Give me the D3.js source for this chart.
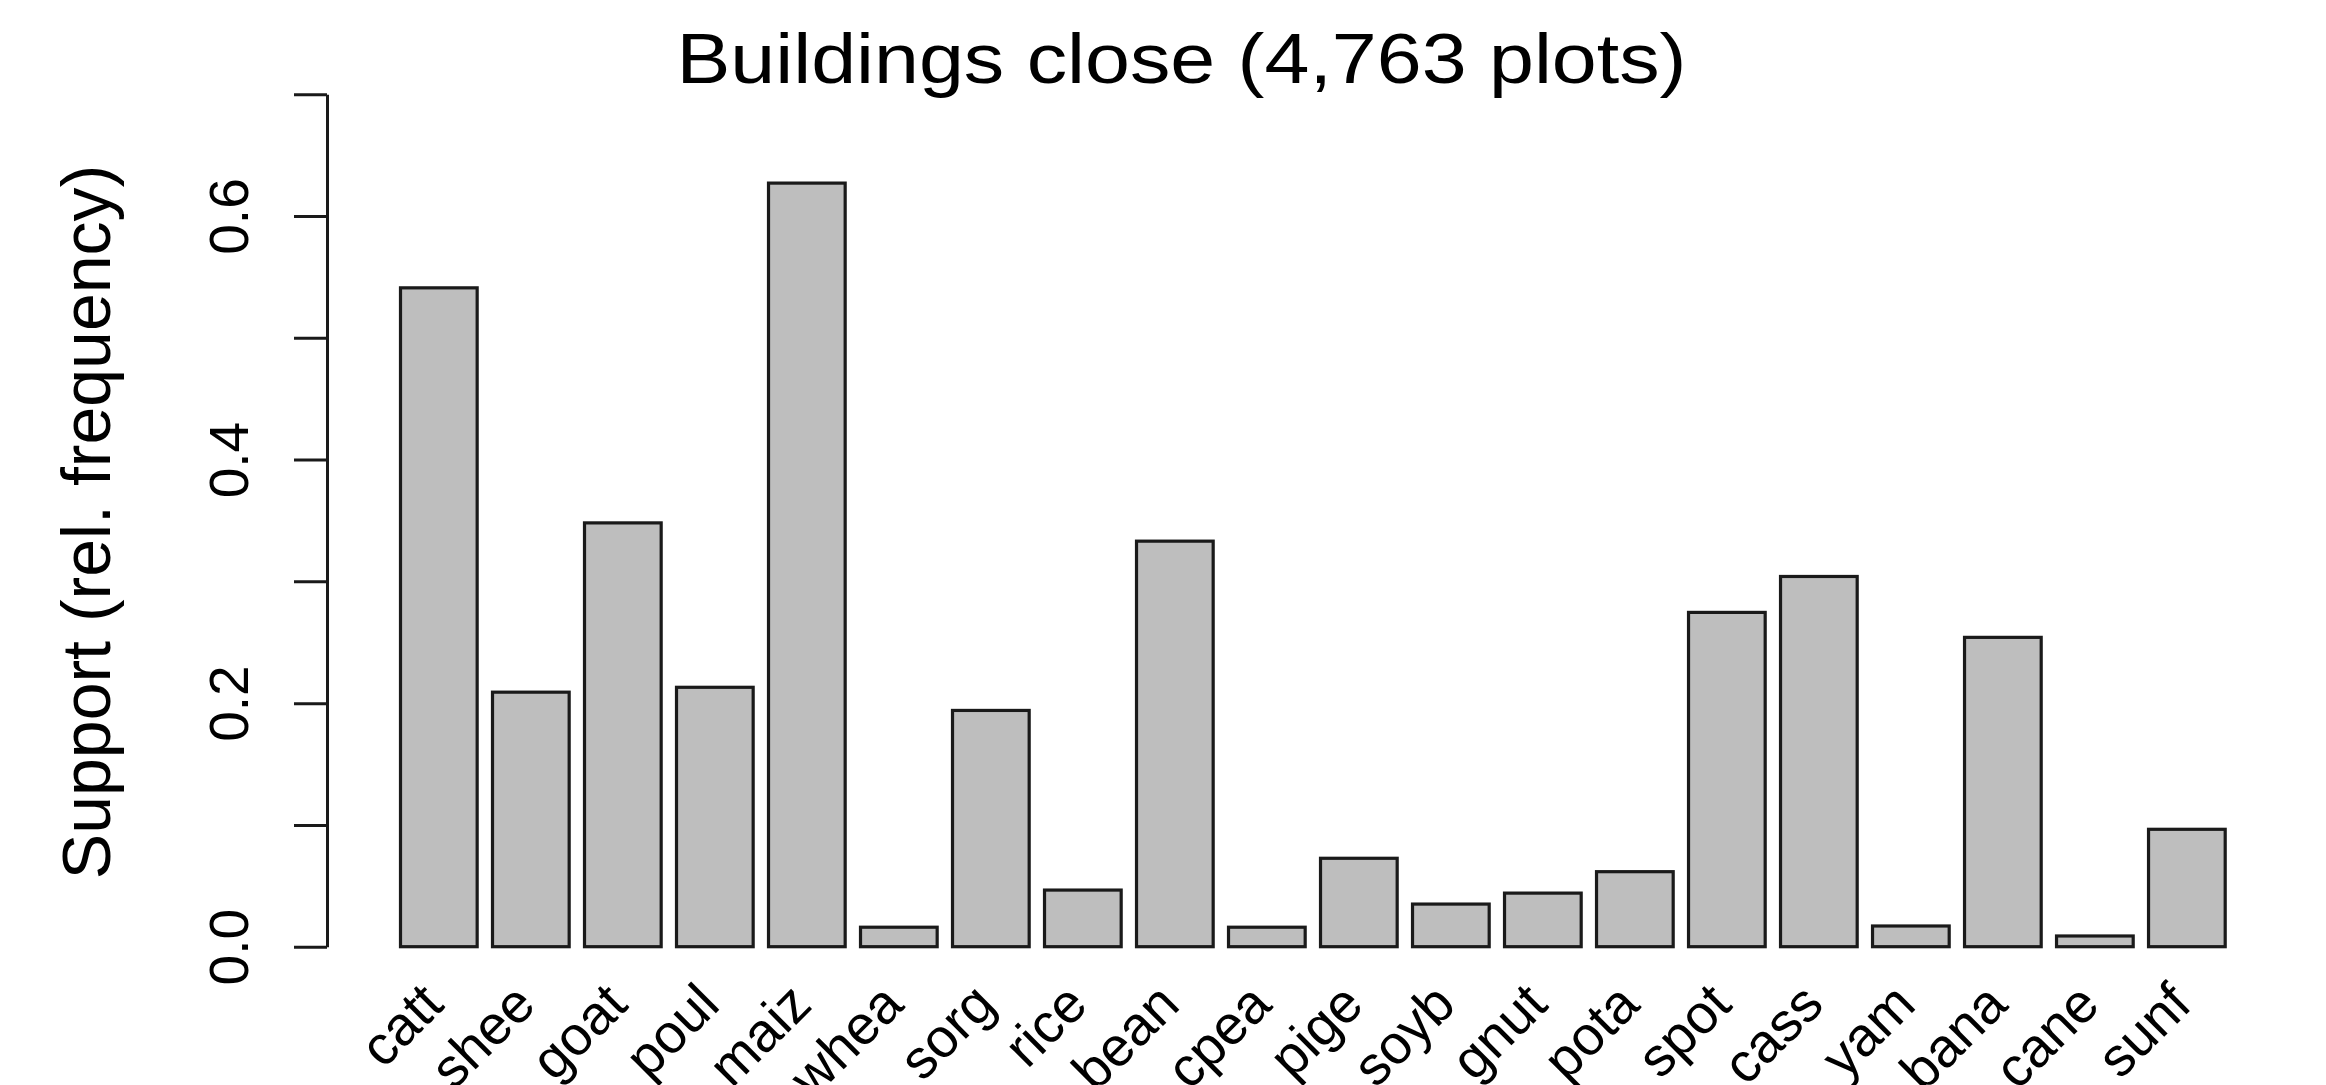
<!DOCTYPE html>
<html>
<head>
<meta charset="utf-8">
<script src="https://cdn.jsdelivr.net/npm/d3@7"></script>
<style>
  html, body { margin: 0; padding: 0; background: #ffffff; }
  svg { display: block; }
  text { font-family: "Liberation Sans", Arial, Helvetica, sans-serif; fill: #000; }
</style>
</head>
<body>
<script>
// Crop / livestock codes along the x axis
const categories = ["catt", "shee", "goat", "poul", "maiz", "whea", "sorg", "rice", "bean", "cpea",
                    "pige", "soyb", "gnut", "pota", "spot", "cass", "yam", "bana", "cane", "sunf"];

// Support (relative frequency) for plots with buildings close
const support = [0.541, 0.209, 0.348, 0.213, 0.627, 0.016, 0.194, 0.0465, 0.333, 0.016,
                 0.0726, 0.035, 0.044, 0.0616, 0.2745, 0.304, 0.017, 0.254, 0.0088, 0.0964];

// Y axis ticks and which of them carry a label
const yTicks = [0, 0.1, 0.2, 0.3, 0.4, 0.5, 0.6, 0.7];
const yTickLabels = { 0: "0.0", 0.2: "0.2", 0.4: "0.4", 0.6: "0.6" };

const titleText = "Buildings close (4,763 plots)";
const yLabelText = "Support (rel. frequency)";

const W = 2326, H = 1085;
const axisX = 327;
const lineColor = "#1a1a1a";

const svg = d3.select("body").append("svg")
  .attr("width", W).attr("height", H)
  .attr("viewBox", `0 0 ${W} ${H}`);

svg.append("rect").attr("width", W).attr("height", H).attr("fill", "#ffffff");

const x = d3.scaleBand()
  .domain(categories)
  .range([400.5, 2225.2])
  .paddingInner(1 / 6)
  .paddingOuter(0);

const y = d3.scaleLinear()
  .domain([0, 0.7])
  .range([946.7, 94.2]);

// Bars
svg.append("g")
  .selectAll("rect")
  .data(categories.map((c, i) => ({ c, v: support[i] })))
  .join("rect")
  .attr("x", d => x(d.c))
  .attr("width", x.bandwidth())
  .attr("y", d => y(d.v))
  .attr("height", d => y(0) - y(d.v))
  .attr("fill", "#bebebe")
  .attr("stroke", lineColor)
  .attr("stroke-width", 3.2);

// Y axis
const yAxis = d3.axisLeft(y)
  .tickValues(yTicks)
  .tickSizeInner(33)
  .tickSizeOuter(0)
  .tickPadding(0)
  .tickFormat(v => yTickLabels[Math.round(v * 10) / 10] || "");

const gy = svg.append("g")
  .attr("transform", `translate(${axisX},0)`)
  .call(yAxis);

gy.select(".domain").attr("stroke", lineColor).attr("stroke-width", 3);
gy.selectAll(".tick line").attr("stroke", lineColor).attr("stroke-width", 3);
gy.selectAll(".tick text")
  .attr("x", null).attr("dy", null)
  .attr("text-anchor", "middle")
  .attr("transform", `translate(${248 - axisX},0) rotate(-90)`)
  .style("font-size", "55px")
  .style("font-family", "'Liberation Sans', Arial, Helvetica, sans-serif")
  .attr("fill", "#000");

// X category labels, rotated 45 degrees
svg.append("g")
  .selectAll("text")
  .data(categories)
  .join("text")
  .attr("text-anchor", "end")
  .attr("transform", d => `translate(${x(d) + x.bandwidth() / 2 + 7},1007) rotate(-45)`)
  .style("font-size", "55px")
  .text(d => d);

// Y axis title
svg.append("text")
  .attr("text-anchor", "middle")
  .attr("transform", "translate(110,522) rotate(-90)")
  .style("font-size", "68px")
  .text(yLabelText);

// Chart title
svg.append("text")
  .attr("x", 1181.5)
  .attr("y", 83.3)
  .attr("text-anchor", "middle")
  .attr("textLength", 1010)
  .attr("lengthAdjust", "spacingAndGlyphs")
  .style("font-size", "71px")
  .text(titleText);
</script>
</body>
</html>
